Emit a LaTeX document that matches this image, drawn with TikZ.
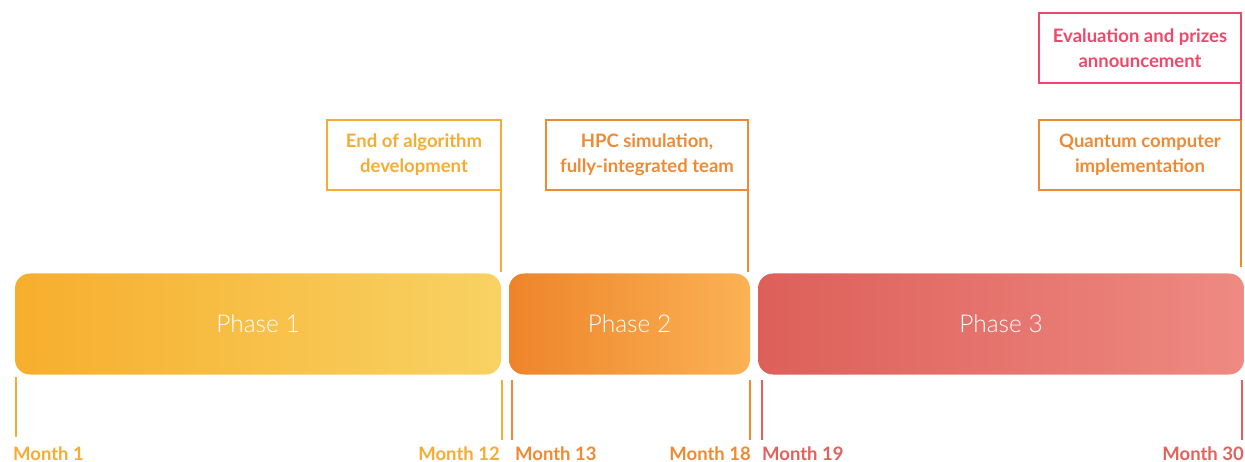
\documentclass[tikz,border=0pt]{standalone}
\usepackage{fontspec}
\setmainfont{Lato}
\newfontfamily\lightfont{Lato Light}
\definecolor{cyel}{HTML}{F6AC33}
\definecolor{cora}{HTML}{EE8A33}
\definecolor{cred}{HTML}{E0625C}
\definecolor{cpink}{HTML}{F0476B}
\definecolor{pAl}{HTML}{F7AE2D}
\definecolor{pAr}{HTML}{F8D263}
\definecolor{pBl}{HTML}{EE842A}
\definecolor{pBr}{HTML}{FBB254}
\definecolor{pCl}{HTML}{DD5F5A}
\definecolor{pCr}{HTML}{EE8A82}
\tikzset{
  phase/.style={rectangle, rounded corners=15pt, inner sep=0pt, outer sep=0pt,
    minimum height=101pt, text=white, font=\lightfont\fontsize{24.5}{28}\selectfont},
  callout/.style={rectangle, draw, line width=2pt, inner sep=0pt, outer sep=0pt,
    minimum height=70pt, align=center, font=\fontsize{18.5}{25}\selectfont\bfseries},
  tick/.style={line width=2pt},
  month/.style={inner sep=0pt, font=\fontsize{18.5}{22}\selectfont\bfseries}
}
\begin{document}
\begin{tikzpicture}[x=1pt,y=-1pt]
\useasboundingbox (0,0) rectangle (1245,462);
% phase bars
\node[phase, left color=pAl, right color=pAr, minimum width=486pt] (p1) at (258,324) {Phase 1};
\node[phase, left color=pBl, right color=pBr, minimum width=241pt] (p2) at (629.5,324) {Phase 2};
\node[phase, left color=pCl, right color=pCr, minimum width=486pt] (p3) at (1001,324) {Phase 3};
% callouts
\node[callout, draw=cyel, text=cyel, minimum width=174pt] (b1) at (414,155) {End of algorithm\\development};
\node[callout, draw=cora, text=cora, minimum width=202pt] (b2) at (647,155) {HPC simulation,\\fully-integrated team};
\node[callout, draw=cora, text=cora, minimum width=202pt] (b3) at (1140,155) {Quantum computer\\implementation};
\node[callout, draw=cpink, text=cpink, minimum width=202pt] (b4) at (1140,48) {Evaluation and prizes\\announcement};
\coordinate (c1) at (501,272);
\coordinate (c2) at (748,272);
\coordinate (c3) at (1241,267);
\draw[tick, cyel] (b1.south east) -- (c1);
\draw[tick, cora] (b2.south east) -- (c2);
\draw[tick, cora] (b3.south east) -- (c3);
\draw[tick, cpink] (b4.south east) -- (b3.north east);
% ticks
\coordinate (t1a) at (16,377); \coordinate (t1b) at (16,437);
\coordinate (t12a) at (502,380); \coordinate (t12b) at (502,440);
\coordinate (t13a) at (512,380); \coordinate (t13b) at (512,440);
\coordinate (t18a) at (750,380); \coordinate (t18b) at (750,440);
\coordinate (t19a) at (762,380); \coordinate (t19b) at (762,440);
\coordinate (t30a) at (1242,380); \coordinate (t30b) at (1242,440);
\draw[tick, cyel] (t1a) -- (t1b);
\draw[tick, cyel] (t12a) -- (t12b);
\draw[tick, cora] (t13a) -- (t13b);
\draw[tick, cora] (t18a) -- (t18b);
\draw[tick, cred] (t19a) -- (t19b);
\draw[tick, cred] (t30a) -- (t30b);
% month labels
\node[month, text=cyel, anchor=base west] (m1) at (13,460) {Month 1};
\node[month, text=cyel, anchor=base east] (m12) at (500,460) {Month 12};
\node[month, text=cora, anchor=base west] (m13) at (515,460) {Month 13};
\node[month, text=cora, anchor=base east] (m18) at (751,460) {Month 18};
\node[month, text=cred, anchor=base west] (m19) at (762,460) {Month 19};
\node[month, text=cred, anchor=base east] (m30) at (1244,460) {Month 30};
\end{tikzpicture}
\end{document}
